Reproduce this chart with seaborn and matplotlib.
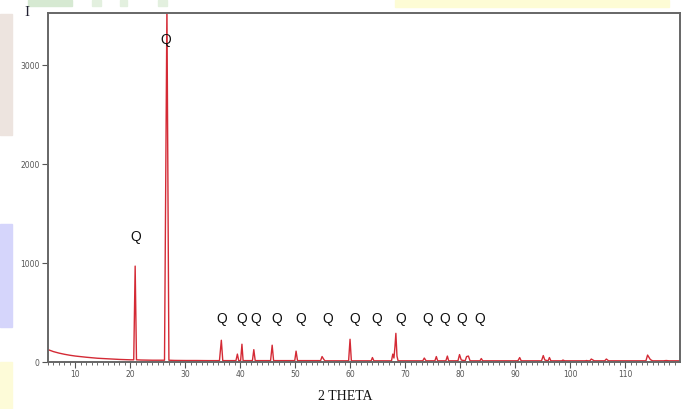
import matplotlib
matplotlib.use("Agg")
import matplotlib.pyplot as plt
import seaborn as sns
import pandas as pd
from matplotlib.patches import Rectangle

# ---- data ----
two_theta = [5.0, 6.0, 7.0, 8.0, 9.0, 10.0, 12.0, 14.0, 16.0, 18.0, 20.0, 20.6, 20.86, 21.1,
             22.0, 24.0, 26.2, 26.64, 27.0, 28.0, 30.0, 32.0, 34.0, 36.2, 36.54, 36.8,
             39.2, 39.46, 39.7, 40.05, 40.29, 40.5, 42.2, 42.45, 42.7, 45.5, 45.79, 46.05,
             49.9, 50.14, 50.4, 54.6, 54.87, 55.2, 55.4, 59.7, 59.96, 60.2, 63.8, 64.03, 64.3,
             67.5, 67.74, 67.95, 68.14, 68.3, 68.5, 68.7, 73.2, 73.47, 73.8, 75.4, 75.66, 75.9,
             77.4, 77.67, 77.9, 79.6, 79.88, 80.2, 80.9, 81.17, 81.5, 81.8, 83.6, 83.84, 84.1,
             90.5, 90.83, 91.1, 94.8, 95.12, 95.4, 96.0, 96.24, 96.5, 98.5, 98.7, 99.0,
             102.8, 103.0, 103.2, 103.6, 103.86, 104.4, 106.3, 106.6, 107.0,
             113.8, 114.1, 114.6, 115.0, 117.0, 117.5, 118.0, 120.0]
intensity = [125, 105, 90, 78, 68, 60, 48, 38, 32, 26, 22, 22, 970, 22,
             20, 18, 18, 3600, 18, 16, 15, 15, 14, 14, 220, 14,
             14, 80, 14, 14, 180, 14, 14, 125, 14, 14, 170, 14,
             14, 110, 14, 14, 55, 25, 12, 12, 230, 12, 12, 45, 12,
             12, 80, 40, 160, 290, 60, 12, 12, 40, 12, 12, 55, 12,
             12, 60, 12, 12, 75, 20, 12, 55, 60, 12, 12, 35, 12,
             12, 45, 12, 12, 65, 20, 12, 45, 12, 12, 20, 12,
             12, 15, 12, 12, 30, 12, 12, 30, 12,
             12, 70, 25, 12, 12, 15, 12, 12]

q_x = [21.0, 26.45, 36.6, 40.3, 42.8, 46.6, 51.0, 55.9, 60.8, 64.8, 69.2, 74.1, 77.2, 80.3, 83.5]
q_y = [1262, 3252, 434, 434, 434, 434, 434, 434, 434, 434, 434, 434, 434, 434, 434]
q_labels = ["Q"] * len(q_x)

x_ticks = [10, 20, 30, 40, 50, 60, 70, 80, 90, 100, 110]
y_ticks = [0, 1000, 2000, 3000]

df = pd.DataFrame({"two_theta": two_theta, "intensity": intensity})

sns.set_theme(style="white")
plt.rcParams['font.family'] = ['DejaVu Sans']

fig = plt.figure(figsize=(6.85, 4.09), dpi=100)
ax = fig.add_axes([48 / 685, 1 - 362 / 409, (680 - 48) / 685, (362 - 13) / 409])

sns.lineplot(data=df, x="two_theta", y="intensity", ax=ax, color="#d42a35",
             linewidth=1.0, estimator=None, sort=False)

ax.set_xlim(5, 120)
ax.set_ylim(0, 3530)
ax.set_xticks(x_ticks)
ax.set_xticks(range(5, 120), minor=True)
ax.set_yticks(y_ticks)
ax.tick_params(axis="both", which="major", direction="out", length=4, width=0.8,
               color="#555555", labelsize=5.5, labelcolor="#555555", pad=2,
               bottom=True, left=True)
ax.tick_params(axis="x", which="minor", direction="out", length=2, width=0.6,
               color="#555555", bottom=True)
for s in ax.spines.values():
    s.set_color("#666666")
    s.set_linewidth(1.4)
ax.set_xlabel("")
ax.set_ylabel("")

for x, y, t in zip(q_x, q_y, q_labels):
    ax.text(x, y, t, ha="center", va="center", fontsize=10,
            family="Liberation Sans", color="#111111")

fig.text(27 / 685, 1 - 12 / 409, "I", ha="center", va="center", fontsize=11,
         family="Liberation Serif", color="#222233")
fig.text(345 / 685, 1 - 397 / 409, "2 THETA", ha="center", va="center", fontsize=10,
         family="Liberation Serif", color="#111111")

# decorative slide background strips
def frect(x0, y0, x1, y1, c):
    fig.patches.append(Rectangle((x0 / 685, 1 - y1 / 409), (x1 - x0) / 685, (y1 - y0) / 409,
                                 transform=fig.transFigure, color=c, zorder=-1))

frect(0, 14, 12, 135, "#ede4df")
frect(0, 224, 12, 327, "#d5d5fb")
frect(0, 362, 12, 409, "#fdfbd8")
frect(28, 0, 72, 6, "#d6e9d2")
frect(92, 0, 101, 6, "#e3f0df")
frect(120, 0, 127, 6, "#e3f0df")
frect(158, 0, 167, 6, "#e3f0df")
frect(395, 0, 669, 7, "#fdfcd5")

fig.savefig("out.png", dpi=100)
